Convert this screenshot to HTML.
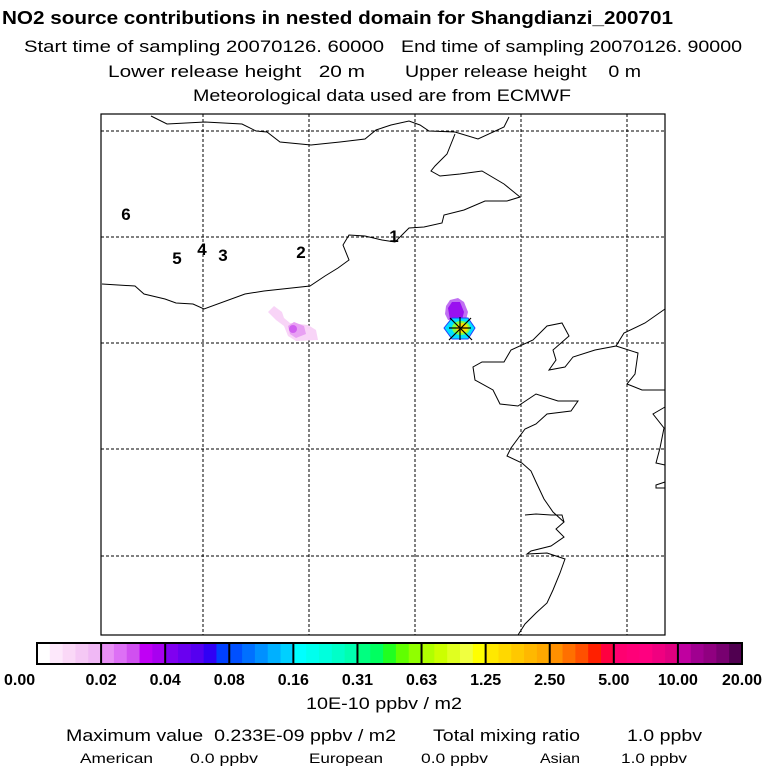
<!DOCTYPE html>
<html><head><meta charset="utf-8"><style>
html,body{margin:0;padding:0;background:#fff;width:768px;height:768px;overflow:hidden}
svg{display:block;font-family:"Liberation Sans",sans-serif}
text{white-space:pre}
</style></head><body>
<svg id="chart" width="768" height="768" viewBox="0 0 768 768" xmlns="http://www.w3.org/2000/svg" xml:space="preserve">
<g fill="#000">
<text x="2" y="24" font-size="18" font-weight="bold" textLength="671" lengthAdjust="spacingAndGlyphs">NO2 source contributions in nested domain for Shangdianzi_200701</text>
<text x="24" y="52" font-size="17" textLength="360" lengthAdjust="spacingAndGlyphs">Start time of sampling 20070126. 60000</text>
<text x="401" y="52" font-size="17" textLength="341" lengthAdjust="spacingAndGlyphs">End time of sampling 20070126. 90000</text>
<text x="108" y="77" font-size="17" textLength="257" lengthAdjust="spacingAndGlyphs">Lower release height   20 m</text>
<text x="405" y="77" font-size="17" textLength="236" lengthAdjust="spacingAndGlyphs">Upper release height    0 m</text>
<text x="193" y="101" font-size="17" textLength="378" lengthAdjust="spacingAndGlyphs">Meteorological data used are from ECMWF</text>
</g>
<g id="map"></g>
<g id="cbar"></g>
<g fill="#000">
<text x="306" y="709" font-size="17" textLength="156" lengthAdjust="spacingAndGlyphs">10E-10 ppbv / m2</text>
<text x="66" y="741" font-size="17" textLength="330" lengthAdjust="spacingAndGlyphs">Maximum value  0.233E-09 ppbv / m2</text>
<text x="433" y="741" font-size="17" textLength="147" lengthAdjust="spacingAndGlyphs">Total mixing ratio</text>
<text x="627" y="741" font-size="17" textLength="75" lengthAdjust="spacingAndGlyphs">1.0 ppbv</text>
<text x="80" y="763" font-size="14" textLength="73" lengthAdjust="spacingAndGlyphs">American</text>
<text x="190" y="763" font-size="14" textLength="68" lengthAdjust="spacingAndGlyphs">0.0 ppbv</text>
<text x="309" y="763" font-size="14" textLength="74" lengthAdjust="spacingAndGlyphs">European</text>
<text x="421" y="763" font-size="14" textLength="67" lengthAdjust="spacingAndGlyphs">0.0 ppbv</text>
<text x="540" y="763" font-size="14" textLength="40" lengthAdjust="spacingAndGlyphs">Asian</text>
<text x="621" y="763" font-size="14" textLength="66" lengthAdjust="spacingAndGlyphs">1.0 ppbv</text>
</g>
</svg>
<script>
const NS="http://www.w3.org/2000/svg";
const tickLabels=["0.00","0.02","0.04","0.08","0.16","0.31","0.63","1.25","2.50","5.00","10.00","20.00"];
const groupColors=[
["#ffffff","#fde8fb","#fad8f7","#f5c8f5","#f0b8f5"],
["#e890f5","#dd70f5","#d050f0","#c000f5","#a800f0"],
["#8000f0","#6a00f0","#5500f0","#3000f5","#0040ff"],
["#0050ff","#0070ff","#0090ff","#00b0ff","#00d0ff"],
["#00ffff","#00ffee","#00ffdd","#00ffc8","#00ffb0"],
["#00ff80","#00ff60","#20ff20","#60ff00","#90ff00"],
["#b0ff00","#ccff00","#e0ff20","#f0ff40","#ffff00"],
["#ffe800","#ffd800","#ffc800","#ffb800","#ffa800"],
["#ff9000","#ff7000","#ff5000","#ff2000","#ff0040"],
["#ff0070","#ff0078","#ff0080","#f00080","#e00080"],
["#c000a0","#a00090","#900080","#780070","#500050"]];
const siteLabels=["1","2","3","4","5","6"];
const siteX=[394,301,223,202,177,126];
const siteY=[236,252,255,249,258,214];
const gridX=[203,309,415,521,627];
const gridY=[131,237,343,449,556];
function mk(tag,attrs,parent){const e=document.createElementNS(NS,tag);for(const k in attrs)e.setAttribute(k,attrs[k]);parent.appendChild(e);return e;}
const map=document.getElementById('map');
const cb=document.getElementById('cbar');
const cx0=37,cx1=742,cy=643,ch=21;
const gw=(cx1-cx0)/groupColors.length;
groupColors.forEach((g,i)=>{g.forEach((c,j)=>{
 const r=mk('rect',{x:cx0+i*gw+j*gw/g.length,y:cy,width:gw/g.length+0.5,height:ch,fill:c},cb);
 
 
});
 if(i>0){const l=mk('line',{x1:cx0+i*gw,x2:cx0+i*gw,y1:cy,y2:cy+ch,stroke:'#000','stroke-width':2},cb);
 
 }
});
const bo=mk('rect',{x:cx0,y:cy,width:cx1-cx0,height:ch,fill:'none',stroke:'#000','stroke-width':2},cb);


tickLabels.forEach((t,i)=>{
 const x=cx0+i*gw;
 const anchor=i===0?'start':(i===tickLabels.length-1?'end':'middle');
 const tx=mk('text',{x:i===0?4:(i===tickLabels.length-1?762:x),y:685,'font-size':16,'font-weight':'bold','text-anchor':anchor},cb);
 
 
 tx.textContent=t;
});
gridX.forEach(x=>{const l=mk('line',{x1:x,x2:x,y1:114,y2:635,stroke:'#000','stroke-width':1,'stroke-dasharray':'3,2'},map);
 
 });
gridY.forEach(y=>{const l=mk('line',{x1:101,x2:665,y1:y,y2:y,stroke:'#000','stroke-width':1,'stroke-dasharray':'3,2'},map);
 
 });
const coasts=[
"151,116 167,124 205,122 242,124 256,131 267,132 280,142 311,145 340,142 365,139 376,130 391,125 409,121 420,125 429,131 455,132 478,139 504,127 509,117",
"455,134 447,154 435,166 431,171 440,176 460,174 482,171 504,184 520,197 507,201 485,201 464,210 444,215 442,223 424,227 409,228 395,242 382,240 365,236 349,235 343,245 349,260 338,268 325,276 310,286 264,291 245,294 204,309 193,304 176,303 165,299 144,294 135,286 102,284",
"665,309 645,323 624,333 616,346 595,350 573,357 565,367 549,370 556,360 553,350 569,336 562,323 547,326 533,340 511,350 504,362 482,362 473,367 475,380 493,390 500,404 518,406 536,394 558,401 578,401 571,411 547,414 536,424 525,429 511,448 507,456 522,463 531,471 536,482 544,499 553,512 564,522 556,529 564,537 551,546 531,551 527,554 547,553 565,559 560,573 553,590 547,603 536,613 525,624 518,635",
"616,346 638,353 635,374 627,384 642,390 665,390",
"525,515 536,514 551,515 562,515 564,522",
"665,407 653,414 664,428 660,448 656,463 665,465",
"665,482 656,485 656,488 665,488"];
coasts.forEach(p=>{const e=mk('polyline',{points:p,fill:'none',stroke:'#000','stroke-width':1},map);
 
 });
const plume=mk('g',{},map);


mk('polygon',{points:'268,312 274,306 282,312 284,318 290,323 308,325 316,330 318,340 296,341 288,336 284,326 276,320',fill:'#f8d4f7'},plume);
mk('polygon',{points:'288,326 294,322 304,326 306,334 296,338 290,334',fill:'#e8a0f3'},plume);
mk('ellipse',{cx:293,cy:329,rx:4,ry:4,fill:'#d060f0'},plume);
mk('polygon',{points:'446,306 450,300 458,298 464,302 468,312 466,320 448,320 445,314',fill:'#c070f2'},plume);
mk('polygon',{points:'448,308 452,302 460,302 464,312 462,320 450,320',fill:'#9a10f0'},plume);
mk('polygon',{points:'444,328 452,318 468,318 475,328 468,339 452,339',fill:'#00e0ff',stroke:'#2040ff','stroke-width':1},plume);
mk('ellipse',{cx:461,cy:328,rx:9,ry:7,fill:'#80ff40'},plume);
mk('ellipse',{cx:462,cy:328,rx:6,ry:5,fill:'#ffe000'},plume);
const mark=mk('g',{stroke:'#000','stroke-width':1.2},map);


mk('line',{x1:449,y1:328,x2:471,y2:328},mark);
mk('line',{x1:460,y1:317,x2:460,y2:340},mark);
mk('line',{x1:450,y1:318,x2:472,y2:340},mark);
mk('line',{x1:471,y1:318,x2:449,y2:340},mark);
siteLabels.forEach((s,i)=>{const t=mk('text',{x:siteX[i],y:siteY[i]+6,'font-size':17,'font-weight':'bold','text-anchor':'middle'},map);
 
 
 t.textContent=s;});
const fr=mk('rect',{x:101,y:114,width:564,height:521,fill:'none',stroke:'#000','stroke-width':1.2},map);


</script>
</body></html>
